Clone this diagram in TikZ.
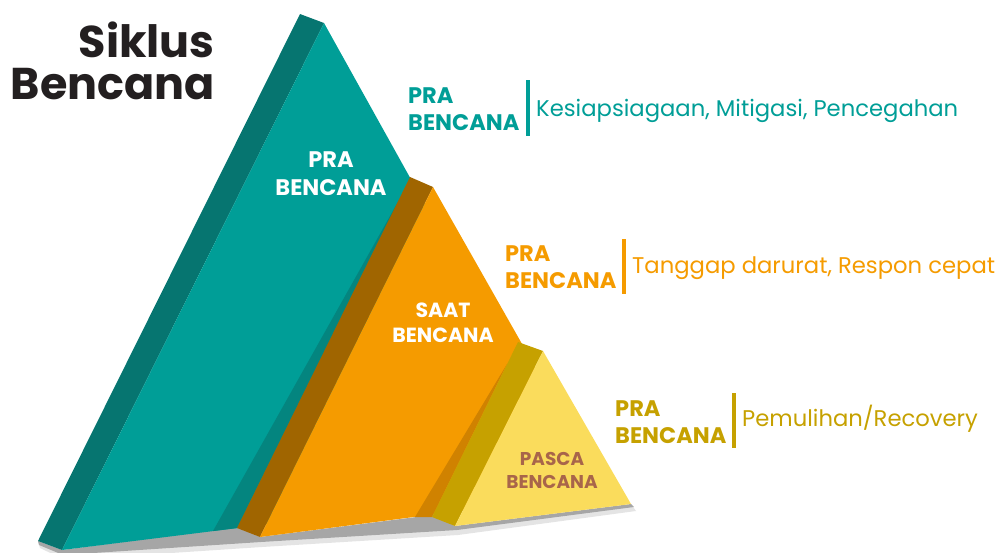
\documentclass[tikz,border=0pt]{standalone}
\usepackage{fontspec}
\setmainfont{Poppins}
\usetikzlibrary{positioning}

\definecolor{tealF}{HTML}{009E97}
\definecolor{tealS}{HTML}{067570}
\definecolor{tealD}{HTML}{04857F}
\definecolor{orgF}{HTML}{F59B00}
\definecolor{orgS}{HTML}{A06500}
\definecolor{orgD}{HTML}{D08200}
\definecolor{ylwF}{HTML}{FADC5C}
\definecolor{ylwS}{HTML}{C6A100}
\definecolor{pascaC}{HTML}{A8654A}
\definecolor{titleC}{HTML}{231F20}

\tikzset{
  inlbl/.style={font=\bfseries\fontsize{22.5}{28}\selectfont, text=white, align=center, anchor=base, inner sep=0pt},
  phase/.style={font=\bfseries\fontsize{22.5}{27}\selectfont, align=left, anchor=base west, inner sep=0pt},
  desc/.style={font=\fontsize{22.7}{26}\selectfont, anchor=base west, inner sep=0pt},
  bar/.style={line width=4pt},
}

\begin{document}
\begin{tikzpicture}[x=1pt,y=-1pt]
  \useasboundingbox (0,0) rectangle (1000,552);

  % shadow under the pyramids
  \fill[black!70, opacity=.15] (38,541) -- (62,550) -- (237,527) -- (260,537) -- (432,515) -- (455,526) -- (631,504)
     -- (636,511) -- (458,535) -- (262,547) -- (65,560) -- (40,548) -- cycle;
  \fill[black!80, opacity=.35] (38,541) -- (62,550) -- (237,527) -- (260,537) -- (432,515) -- (455,526) -- (631,504)
     -- (634,507) -- (457,530) -- (261,542) -- (63,555) -- (39,545) -- cycle;

  % pra bencana
  \fill[tealS] (300,14) -- (324,23) -- (62,550) -- (38,541) -- cycle;
  \fill[tealF] (324,23) -- (62,550) -- (581,485) -- cycle;
  \fill[tealD] (213,531) -- (237,528) -- (399,200) -- cycle;

  % saat bencana
  \fill[orgS] (410,177) -- (433,187) -- (260,537) -- (237,528) -- cycle;
  \fill[orgF] (433,187) -- (260,537) -- (606,492) -- cycle;
  \fill[orgD] (415,517) -- (432,517) -- (507,364) -- cycle;

  % pasca bencana
  \fill[ylwS] (518,342) -- (543,351) -- (455,526) -- (432,517) -- cycle;
  \fill[ylwF] (543,351) -- (455,526) -- (631,504) -- cycle;

  \node[inlbl] (praIn) at (331,195) {PRA\\BENCANA};
  \node[inlbl, font=\bfseries\fontsize{20.5}{25}\selectfont] (saatIn) at (443,342) {SAAT\\BENCANA};
  \node[inlbl, font=\bfseries\fontsize{18.5}{23}\selectfont, text=pascaC] (pascaIn) at (552,488) {PASCA\\BENCANA};

  % title
  \node[font=\bfseries\fontsize{44.5}{42}\selectfont, text=titleC, align=right, anchor=base east, inner sep=0pt]
    (title) at (215,99) {Siklus\\Bencana};

  % legend
  \node[phase, text=tealF] (praLbl) at (408,130) {PRA\\BENCANA};
  \coordinate (praTop) at (528,80);
  \coordinate (praBot) at (528,136);
  \draw[bar, tealF] (praTop) -- (praBot);
  \node[desc, text=tealF] (praTxt) at (536,116) {Kesiapsiagaan, Mitigasi, Pencegahan};

  \node[phase, text=orgF] (saatLbl) at (505,288) {PRA\\BENCANA};
  \coordinate (saatTop) at (624,239);
  \coordinate (saatBot) at (624,294);
  \draw[bar, orgF] (saatTop) -- (saatBot);
  \node[desc, text=orgF] (saatTxt) at (632,273) {Tanggap darurat, Respon cepat};

  \node[phase, text=ylwS] (pascaLbl) at (615,443) {PRA\\BENCANA};
  \coordinate (pascaTop) at (734,393);
  \coordinate (pascaBot) at (734,448);
  \draw[bar, ylwS] (pascaTop) -- (pascaBot);
  \node[desc, text=ylwS] (pascaTxt) at (742,426) {Pemulihan/Recovery};
\end{tikzpicture}
\end{document}
